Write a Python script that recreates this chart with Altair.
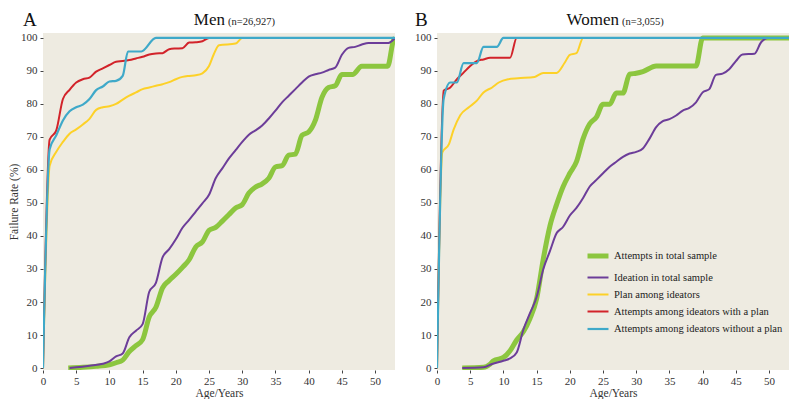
import altair as alt
import pandas as pd

# ---------------- data ----------------
series_names = [
    "Attempts in total sample",
    "Ideation in total sample",
    "Plan among ideators",
    "Attempts among ideators with a plan",
    "Attempts among ideators without a plan",
]
series_colors = ["#8CC63F", "#6C3D99", "#FDD128", "#D2232A", "#3FA9C9"]
series_widths = [5, 2, 2, 2, 2.2]

panel_letters = ["A", "B"]
panel_titles = ["Men", "Women"]
panel_ns = ["(n=26,927)", "(n=3,055)"]

# Men
men_att_total_age = [3.8, 6, 8, 10, 11, 12, 13, 14, 15, 16, 17, 18, 19, 20, 21, 22, 23, 24, 25, 26, 27, 28, 29, 30, 31, 32, 33, 34, 35, 36, 37, 38, 39, 40, 41, 42, 43, 44, 45, 46.6, 48, 51.9, 52.8, 53]
men_att_total_val = [0, 0.2, 0.5, 1, 1.6, 2.4, 5, 6.8, 8.6, 15.5, 18.4, 24.3, 26.5, 28.4, 30.5, 32.8, 36.7, 38.2, 41.7, 42.6, 44.5, 46.5, 48.5, 49.5, 53, 54.8, 55.8, 57.5, 60.9, 61.3, 64.5, 64.8, 70.5, 71.5, 75, 82, 85, 85.5, 88.9, 88.9, 91.4, 91.4, 99.5, 100]

men_idea_age = [4, 5, 7, 9, 10, 11, 12, 13, 14, 15, 16, 17, 18, 19, 20, 21, 22, 23, 24, 25, 26, 27, 28, 29, 30, 31, 32, 33, 34, 35, 36, 37, 38, 39, 40, 41, 42, 43, 44, 45, 46, 47, 48, 49, 52, 53]
men_idea_val = [0, 0.2, 0.7, 1.3, 2, 3.5, 4.4, 9.3, 11.3, 13.3, 23.1, 25.8, 33.5, 36, 39, 42.5, 44.9, 47.4, 49.9, 52.5, 57.5, 60.5, 63.5, 66, 68.5, 70.7, 72, 73.5, 75.6, 78, 80.5, 82.5, 84.5, 86.5, 88.3, 89, 89.5, 90.3, 91, 94.9, 97, 97.3, 98, 98.5, 98.5, 100]

men_plan_age = [0, 1, 2, 3, 4, 5, 6, 7, 8, 9, 10, 11, 12, 13, 14, 15, 16, 17, 18, 19, 20, 21, 22, 23, 24, 25, 25.7, 26.5, 29, 30, 53]
men_plan_val = [0, 61.3, 65.5, 68.5, 71, 72.3, 73.8, 75.5, 78.2, 79, 79.3, 80, 81.3, 82.5, 83.5, 84.5, 85, 85.5, 86, 86.6, 87.5, 88.2, 88.5, 88.7, 89.3, 91.5, 95, 97.8, 98.3, 100, 100]

men_withplan_age = [0, 1, 2, 3, 4, 5, 6, 7, 8, 9, 10, 11, 12, 13, 14, 15, 16, 17, 18, 19, 20, 21, 22, 23, 24, 25, 53]
men_withplan_val = [0, 69.2, 72, 81.5, 84.3, 86.5, 87.5, 88, 89.8, 90.8, 91.8, 92.8, 93, 93.3, 93.8, 94.3, 95, 95.3, 95.4, 96.6, 96.8, 96.9, 98.6, 98.7, 99, 100, 100]

men_noplan_age = [0, 1, 2, 3, 4, 5, 6, 7, 8, 9, 10, 11, 12, 12.8, 14.8, 17, 53]
men_noplan_val = [0, 66.3, 70.5, 75, 77.8, 79, 79.8, 81.5, 84.2, 85.3, 86.8, 87, 88.5, 95.9, 95.9, 100, 100]

# Women
wom_att_total_age = [3.8, 7, 8, 8.5, 10, 11, 12, 13, 14, 15, 16, 17, 18, 19, 20, 21, 22, 23, 24, 25, 26, 27, 28, 29, 30, 31, 33, 39, 40, 53]
wom_att_total_val = [0, 0.2, 1.2, 2.2, 3.2, 5.2, 8.5, 11, 15, 21, 33, 43, 49.5, 55, 59, 62.5, 69.5, 74, 76, 79.9, 79.9, 83.3, 83.3, 89, 89.3, 89.8, 91.5, 91.5, 100, 100]

wom_idea_age = [3.8, 7, 8.3, 10, 11, 12, 13, 14, 15, 16, 17, 18, 19, 20, 21, 22, 23, 24, 25, 26, 27, 28, 29, 30, 31, 32, 33, 34, 35, 36, 37, 38, 39, 40, 41, 42, 43, 44, 45, 46, 47.8, 48.8, 49.8, 53]
wom_idea_val = [0, 0.2, 1.2, 2.2, 2.9, 4.7, 11.6, 16.6, 21.5, 29.9, 35.4, 40.8, 42.8, 46.2, 48.5, 51.5, 55, 57, 59, 61, 62.5, 64, 65, 65.5, 66.5, 69.5, 73, 74.8, 75.4, 76.5, 78, 78.8, 80.5, 83.5, 84.5, 88.8, 89.2, 90.5, 93, 95, 95.2, 98.7, 100, 100]

wom_plan_age = [0, 0.8, 1.8, 2.5, 3.5, 4.8, 6, 7, 8.3, 9.3, 10.7, 12.2, 14.7, 16, 18, 19.2, 20, 21, 22, 53]
wom_plan_val = [0, 65.3, 67.8, 72.2, 76.6, 79, 81, 83.5, 85, 86.5, 87.5, 87.8, 88.2, 89.4, 89.4, 92.4, 94.9, 95.4, 100, 100]

wom_withplan_age = [0, 1, 2, 3, 4, 5, 6, 7, 8, 11, 12, 53]
wom_withplan_val = [0, 84, 85, 87.5, 89.5, 91.5, 93, 93.5, 94, 94, 100, 100]

wom_noplan_age = [0, 1, 2, 3, 4, 6, 7, 9, 10, 53]
wom_noplan_val = [0, 81.5, 86.5, 86.5, 92.4, 92.4, 97.3, 97.3, 100, 100]

x_ticks = [0, 5, 10, 15, 20, 25, 30, 35, 40, 45, 50]
y_ticks = [0, 10, 20, 30, 40, 50, 60, 70, 80, 90, 100]

men_series = [
    (men_att_total_age, men_att_total_val),
    (men_idea_age, men_idea_val),
    (men_plan_age, men_plan_val),
    (men_withplan_age, men_withplan_val),
    (men_noplan_age, men_noplan_val),
]
wom_series = [
    (wom_att_total_age, wom_att_total_val),
    (wom_idea_age, wom_idea_val),
    (wom_plan_age, wom_plan_val),
    (wom_withplan_age, wom_withplan_val),
    (wom_noplan_age, wom_noplan_val),
]


def build_df(series_list):
    rows = []
    for name, (ages, vals) in zip(series_names, series_list):
        for a, v in zip(ages, vals):
            rows.append({"series": name, "age": a, "rate": v})
    return pd.DataFrame(rows)


FONT = "Liberation Serif"
W, H = 352, 337


def panel(df, idx, show_ytitle, show_legend):
    base = alt.Chart(df)
    if show_legend:
        legend = alt.Legend(
            orient="none", legendX=148, legendY=210, title=None,
            labelFont=FONT, labelFontSize=10.5, labelColor="#222", labelLimit=300,
            symbolType="stroke", symbolSize=440, rowPadding=-5, labelOffset=3,
        )
    else:
        legend = None
    layers = []
    for s in series_names:
        layers.append(
            base.transform_filter(alt.datum.series == s)
            .mark_line(interpolate="monotone", clip=True)
            .encode(
                x=alt.X("age:Q", scale=alt.Scale(domain=[0, 53], nice=False, zero=False),
                        axis=alt.Axis(values=x_ticks, title="Age/Years", labelFlush=False,
                                      labelFont=FONT, titleFont=FONT, labelPadding=2, titlePadding=1)),
                y=alt.Y("rate:Q", scale=alt.Scale(domain=[-0.6, 101.5], nice=False, zero=False),
                        axis=alt.Axis(values=y_ticks, labelFont=FONT, titleFont=FONT, titlePadding=1,
                                      title="Failure Rate (%)" if show_ytitle else None)),
                color=alt.Color("series:N", scale=alt.Scale(domain=series_names, range=series_colors),
                                legend=legend),
                strokeWidth=alt.StrokeWidth("series:N",
                                            scale=alt.Scale(type="ordinal", domain=series_names, range=series_widths),
                                            legend=legend),
            )
        )
    letter = alt.Chart(pd.DataFrame({"t": [panel_letters[idx]]})).mark_text(
        font=FONT, fontSize=19, align="left", baseline="alphabetic", color="#111"
    ).encode(x=alt.value(-20 if idx == 0 else -22), y=alt.value(-7), text="t:N")
    title = alt.Chart(pd.DataFrame({"t": [panel_titles[idx]]})).mark_text(
        font=FONT, fontSize=17, align="right", baseline="alphabetic", color="#111"
    ).encode(x=alt.value(182), y=alt.value(-8), text="t:N")
    ntext = alt.Chart(pd.DataFrame({"t": [panel_ns[idx]]})).mark_text(
        font=FONT, fontSize=10.5, align="left", baseline="alphabetic", color="#222"
    ).encode(x=alt.value(185), y=alt.value(-8), text="t:N")
    return alt.layer(*layers, letter, title, ntext).properties(width=W, height=H)


chart_a = panel(build_df(men_series), 0, True, False)
chart_b = panel(build_df(wom_series), 1, False, True)

chart = (
    alt.hconcat(chart_a, chart_b, spacing=19)
    .resolve_scale(color="independent", strokeWidth="independent")
    .resolve_legend(color="independent", strokeWidth="independent")
    .properties(padding={"left": 0, "top": 3, "right": 0, "bottom": 0}, background="white")
    .configure(font=FONT)
    .configure_view(fill="#EEEBE1", stroke=None)
    .configure_axis(
        labelFont=FONT, labelFontSize=11, labelColor="#333",
        titleFont=FONT, titleFontSize=11.5, titleColor="#333", titleFontWeight="normal",
        tickColor="#444", tickSize=3, labelPadding=3, titlePadding=2,
        domain=False, grid=False,
    )
    .configure_legend(labelFont=FONT)
)

chart.save("out.html", embed_options={"renderer": "svg", "actions": False})
